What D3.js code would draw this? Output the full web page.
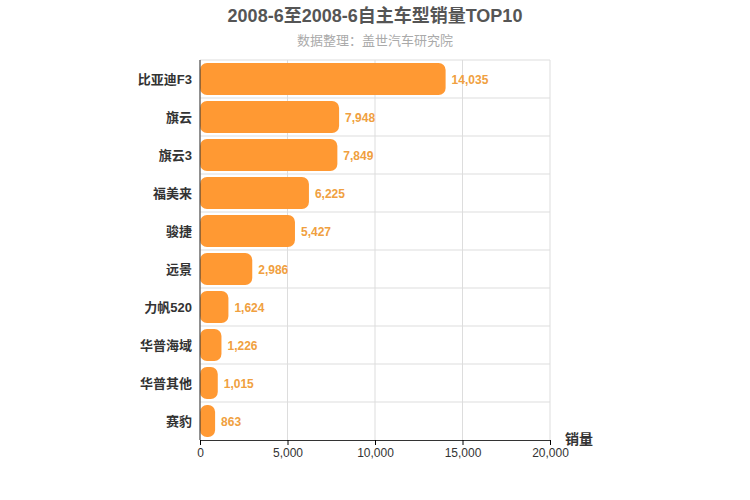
<!DOCTYPE html>
<html><head><meta charset="utf-8">
<script src="https://cdn.jsdelivr.net/npm/d3@7"></script>
<style>body{margin:0;background:#fff}text{font-family:"Liberation Sans","Noto Sans CJK SC",sans-serif}</style>
</head><body><svg id="c" width="750" height="500"></svg>
<script>
const categories=["比亚迪F3","旗云","旗云3","福美来","骏捷","远景","力帆520","华普海域","华普其他","赛豹"];
const values=[14035,7948,7849,6225,5427,2986,1624,1226,1015,863];
const ticks=[0,5000,10000,15000,20000];
const svg=d3.select("#c");
const m={l:200,r:550,t:60,b:440};
const x=d3.scaleLinear().domain([0,20000]).range([m.l,m.r]);
const y=d3.scaleBand().domain(categories).range([m.t,m.b]).paddingInner(0.16).paddingOuter(0.08);
const yb=d3.scaleBand().domain(categories).range([m.t,m.b]);
svg.append("text").attr("x",375).attr("y",22).attr("text-anchor","middle").attr("font-size",18).attr("font-weight","bold").attr("fill","#555").text("2008-6至2008-6自主车型销量TOP10");
svg.append("text").attr("x",375).attr("y",45).attr("text-anchor","middle").attr("font-size",13).attr("fill","#aaa").text("数据整理：盖世汽车研究院");
const g=svg.append("g");
ticks.forEach(t=>g.append("line").attr("x1",x(t)).attr("x2",x(t)).attr("y1",m.t).attr("y2",m.b).attr("stroke","#ddd"));
categories.forEach((c,i)=>{if(i>0)g.append("line").attr("x1",m.l).attr("x2",m.r).attr("y1",yb(c)).attr("y2",yb(c)).attr("stroke","#ddd");});
g.append("line").attr("x1",m.l).attr("x2",m.r).attr("y1",m.t).attr("y2",m.t).attr("stroke","#ddd");
svg.selectAll(".bar").data(values).enter().append("rect").attr("x",x(0)).attr("y",(d,i)=>y(categories[i])).attr("width",d=>x(d)-x(0)).attr("height",y.bandwidth()).attr("rx",7).attr("fill","#ff9933");
svg.selectAll(".vl").data(values).enter().append("text").attr("x",d=>x(d)+6).attr("y",(d,i)=>y(categories[i])+y.bandwidth()/2+5).attr("font-size",12).attr("font-weight","bold").attr("fill","#f0a040").text(d=>d3.format(",")(d));
svg.selectAll(".cl").data(categories).enter().append("text").attr("x",192).attr("y",d=>yb(d)+yb.bandwidth()/2+5).attr("text-anchor","end").attr("font-size",13).attr("font-weight","bold").attr("fill","#333").text(d=>d);
const ax=svg.append("g").attr("transform",`translate(0,${m.b})`).call(d3.axisBottom(x).tickValues(ticks).tickFormat(d3.format(",")).tickSize(5));
ax.select(".domain").attr("stroke","#333");ax.selectAll("text").attr("font-size",12).attr("fill","#333").attr("font-family","Liberation Sans");
svg.append("line").attr("x1",m.l).attr("x2",m.l).attr("y1",m.t).attr("y2",m.b).attr("stroke","#333");
svg.append("text").attr("x",565).attr("y",444).attr("font-size",14).attr("font-weight","bold").attr("fill","#333").text("销量");
</script></body></html>
